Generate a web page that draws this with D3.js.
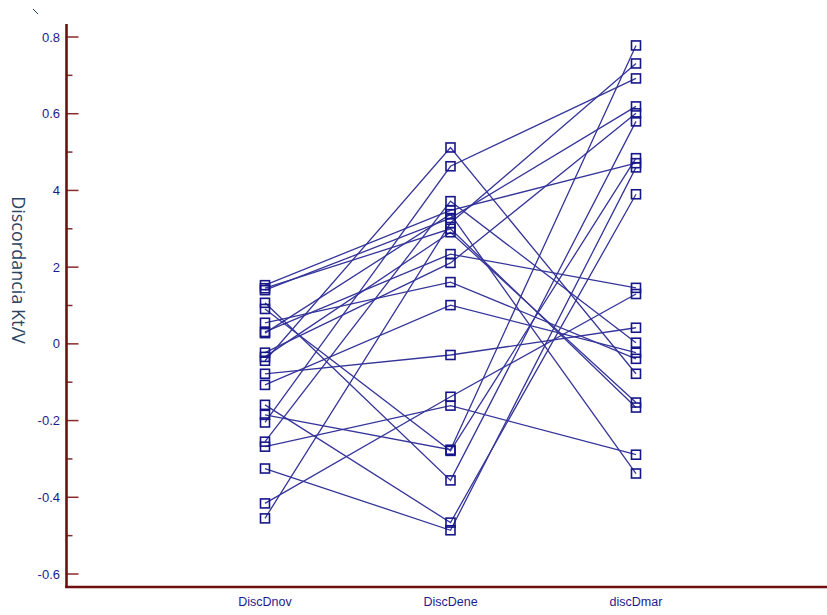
<!DOCTYPE html>
<html>
<head>
<meta charset="utf-8">
<script src="https://cdn.jsdelivr.net/npm/d3@7"></script>
<style>
  body { margin: 0; background: #fff; }
  svg { display: block; font-family: "Liberation Sans", Arial, sans-serif; }
</style>
</head>
<body>
<svg id="chart" width="827" height="615"></svg>
<script>
// one value per subject, same order in each array
const categories = ['DiscDnov', 'DiscDene', 'discDmar'];
const discDnov = [-0.044, -0.255, -0.268, -0.416, -0.325, -0.159, -0.185, 0.091, 0.107, -0.078, -0.107,
  0.153, 0.140, -0.455, -0.205, -0.023, -0.034, 0.055, 0.031, 0.028, 0.145];
const discDene = [0.512, 0.372, -0.161, -0.138, -0.486, -0.466, -0.276, -0.279, -0.356, -0.029, 0.101,
  0.348, 0.328, 0.315, 0.463, 0.211, 0.291, 0.161, 0.234, 0.338, 0.300];
const discDmar = [-0.078, 0.003, -0.289, 0.130, 0.460, 0.390, 0.778, 0.484, 0.580, 0.042, -0.023,
  0.471, 0.619, 0.731, 0.692, 0.601, -0.153, -0.039, 0.146, -0.338, -0.166];

const yTicks = [0.8, 0.6, 0.4, 0.2, 0, -0.2, -0.4, -0.6];
const yTickLabels = ['0.8', '0.6', '4', '2', '0', '-0.2', '-0.4', '-0.6'];
const yMinorTicks = [0.7, 0.5, 0.3, 0.1, -0.1, -0.3, -0.5];
const yTitle = 'Discordancia Kt/V';

const axisColor = '#6e1010';
const tickColor = '#8a2a2a';
const textColor = '#1c1c8c';
const lineColor = '#35359a';

const svg = d3.select('#chart');

const x = d3.scalePoint().domain(categories).range([265, 636]);
const y = d3.scaleLinear().domain([-0.6, 0.8]).range([574, 37]);

const subjects = discDnov.map((d, i) => [discDnov[i], discDene[i], discDmar[i]]);

// profile lines
const line = d3.line()
  .x((d, i) => x(categories[i]))
  .y(d => y(d));

svg.append('g')
  .selectAll('path')
  .data(subjects)
  .enter().append('path')
  .attr('d', line)
  .attr('fill', 'none')
  .attr('stroke', lineColor)
  .attr('stroke-width', 1.3);

// square markers
const pts = [];
subjects.forEach(s => s.forEach((v, i) => pts.push({ c: categories[i], v: v })));
svg.append('g')
  .selectAll('rect')
  .data(pts)
  .enter().append('rect')
  .attr('x', d => x(d.c) - 4.5)
  .attr('y', d => y(d.v) - 4.5)
  .attr('width', 9)
  .attr('height', 9)
  .attr('fill', 'none')
  .attr('stroke', '#16168a')
  .attr('stroke-width', 1.6);

// y axis
const axisX = 66.5;
svg.append('g')
  .selectAll('line.major')
  .data(yTicks)
  .enter().append('line')
  .attr('x1', axisX).attr('x2', axisX + 12)
  .attr('y1', d => y(d)).attr('y2', d => y(d))
  .attr('stroke', tickColor).attr('stroke-width', 1.5);

svg.append('g')
  .selectAll('line.minor')
  .data(yMinorTicks)
  .enter().append('line')
  .attr('x1', axisX).attr('x2', axisX + 6)
  .attr('y1', d => y(d)).attr('y2', d => y(d))
  .attr('stroke', tickColor).attr('stroke-width', 1.5);

svg.append('g')
  .selectAll('text')
  .data(yTicks)
  .enter().append('text')
  .attr('x', 60)
  .attr('y', d => y(d))
  .attr('dy', '0.35em')
  .attr('text-anchor', 'end')
  .attr('font-size', 13)
  .attr('fill', textColor)
  .text((d, i) => yTickLabels[i]);

svg.append('line')
  .attr('x1', axisX).attr('x2', axisX)
  .attr('y1', 24).attr('y2', 588)
  .attr('stroke', axisColor).attr('stroke-width', 2.6);

svg.append('line')
  .attr('x1', axisX - 1.3).attr('x2', 827)
  .attr('y1', 587).attr('y2', 587)
  .attr('stroke', axisColor).attr('stroke-width', 2.6);

// x labels
svg.append('g')
  .selectAll('text')
  .data(categories)
  .enter().append('text')
  .attr('x', d => x(d))
  .attr('y', 606)
  .attr('text-anchor', 'middle')
  .attr('font-size', 12.5)
  .attr('fill', textColor)
  .text(d => d);

// y title
svg.append('text')
  .attr('transform', 'translate(12,270) rotate(90)')
  .attr('text-anchor', 'middle')
  .attr('font-family', '"Open Sans", "DejaVu Sans", sans-serif')
  .attr('font-size', 18)
  .attr('fill', '#2b4563')
  .text(yTitle);

// stray mark at the top left
svg.append('line')
  .attr('x1', 33).attr('y1', 9).attr('x2', 38).attr('y2', 14)
  .attr('stroke', '#2b4563').attr('stroke-width', 1);
</script>
</body>
</html>
